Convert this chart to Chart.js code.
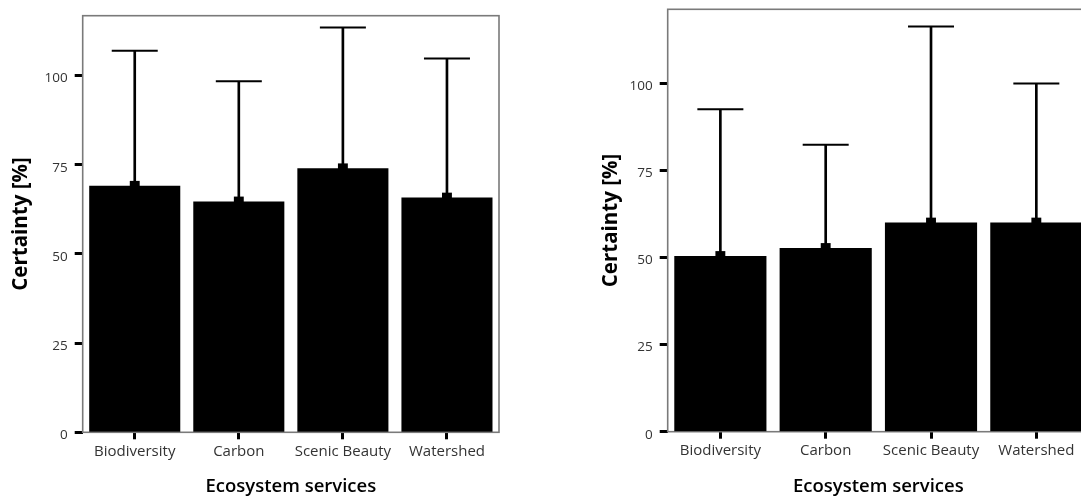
<!DOCTYPE html>
<html>
<head>
<meta charset="utf-8">
<script src="https://cdn.jsdelivr.net/npm/chart.js@4/dist/chart.umd.min.js"></script>
<style>
  html, body { margin: 0; padding: 0; background: #fff; width: 1081px; height: 499px; overflow: hidden; }
  #wrap { position: relative; width: 1081px; height: 499px; overflow: hidden; }
  .panel { position: absolute; top: 0; height: 499px; }
  #p1 { left: 0; width: 540px; }
  #p2 { left: 540px; width: 560px; }
</style>
</head>
<body>
<div id="wrap">
  <div class="panel" id="p1"><canvas id="c1"></canvas></div>
  <div class="panel" id="p2"><canvas id="c2"></canvas></div>
</div>
<script>
// Ecosystem service categories and y-axis ticks
const categories = ['Biodiversity', 'Carbon', 'Scenic Beauty', 'Watershed'];
const yTicks = [0, 25, 50, 75, 100];

// Panel 1: mean certainty and upper error limit
const meansA = [69.1, 64.7, 74.0, 65.8];
const upperA = [107.0, 98.4, 113.5, 104.8];

// Panel 2: mean certainty and upper error limit
const meansB = [50.4, 52.7, 60.0, 60.0];
const upperB = [92.5, 82.3, 116.3, 99.9];

const yTitle = 'Certainty [%]';
const xTitle = 'Ecosystem services';

const FONT = "'Open Sans', 'Noto Sans', sans-serif";

// Grey frame around the plotting area
const framePlugin = {
  id: 'frame',
  beforeDatasetsDraw(chart) {
    const { ctx, chartArea: a } = chart;
    ctx.save();
    ctx.strokeStyle = '#7a7a7a';
    ctx.lineWidth = 1.6;
    ctx.strokeRect(a.left, a.top, a.right - a.left, a.bottom - a.top);
    ctx.restore();
  }
};

function makeChart(id, means, upper, g) {
  const whiskers = means.map((m, i) => [m, upper[i]]);
  return new Chart(document.getElementById(id), {
    type: 'bar',
    data: {
      labels: categories,
      datasets: [
        {
          // mean bars
          data: means,
          backgroundColor: '#000',
          borderWidth: 0,
          grouped: false,
          categoryPercentage: 1,
          barPercentage: 0.875,
          order: 4
        },
        {
          // error bar stems
          data: whiskers,
          backgroundColor: '#000',
          borderWidth: 0,
          grouped: false,
          barThickness: 2,
          order: 3
        },
        {
          // error bar caps
          type: 'line',
          data: upper,
          showLine: false,
          pointStyle: 'line',
          pointRadius: 23,
          pointBorderWidth: 2,
          pointBorderColor: '#000',
          borderColor: '#000',
          clip: false,
          order: 2
        },
        {
          // mean markers
          type: 'line',
          data: means,
          showLine: false,
          pointStyle: 'rect',
          pointRadius: 7,
          pointBorderWidth: 0,
          pointBackgroundColor: '#000',
          pointBorderColor: '#000',
          clip: false,
          order: 1
        }
      ]
    },
    options: {
      responsive: true,
      maintainAspectRatio: false,
      animation: false,
      events: [],
      layout: {
        autoPadding: false,
        padding: { left: g.padLeft, right: g.padRight, top: g.padTop, bottom: 0 }
      },
      plugins: { legend: { display: false }, tooltip: { enabled: false } },
      scales: {
        x: {
          offset: true,
          afterFit(s) {
            s.height = g.xHeight;
            s.paddingLeft = 0; s.paddingRight = 0;
          },
          border: { display: false },
          grid: {
            offset: false,
            drawOnChartArea: false,
            drawTicks: true,
            tickLength: 7,
            tickWidth: 3,
            tickColor: '#000'
          },
          ticks: {
            color: '#333',
            padding: 3,
            maxRotation: 0,
            autoSkip: false,
            font: { family: FONT, size: 15 }
          },
          title: {
            display: true,
            text: xTitle,
            color: '#000',
            padding: { top: 0, bottom: 1 },
            font: { family: FONT, size: 18.5, weight: '600' }
          }
        },
        y: {
          min: 0,
          max: g.yMax,
          afterFit(s) {
            s.width = g.yWidth;
            s.paddingTop = 0; s.paddingBottom = 0;
          },
          afterBuildTicks(s) { s.ticks = yTicks.map(v => ({ value: v })); },
          border: { display: false },
          grid: {
            drawOnChartArea: false,
            drawTicks: true,
            tickLength: 8,
            tickWidth: 3,
            tickColor: '#000'
          },
          ticks: {
            color: '#333',
            padding: 7,
            labelOffset: 3,
            font: { family: FONT, size: 13.5 }
          },
          title: {
            display: true,
            text: yTitle,
            color: '#000',
            padding: { top: g.yTitlePad, bottom: 0 },
            font: { family: FONT, size: 20.5, weight: 'bold' }
          }
        }
      }
    },
    plugins: [framePlugin]
  });
}

makeChart('c1', meansA, upperA, {
  padLeft: 0, yWidth: 82.7, padTop: 15.7, padRight: 41, xHeight: 66.7, yMax: 116.8, yTitlePad: 9.2
});
makeChart('c2', meansB, upperB, {
  padLeft: 50, yWidth: 77.7, padTop: 9.3, padRight: 11, xHeight: 67.3, yMax: 121.2, yTitlePad: 9.2
});
</script>
</body>
</html>
